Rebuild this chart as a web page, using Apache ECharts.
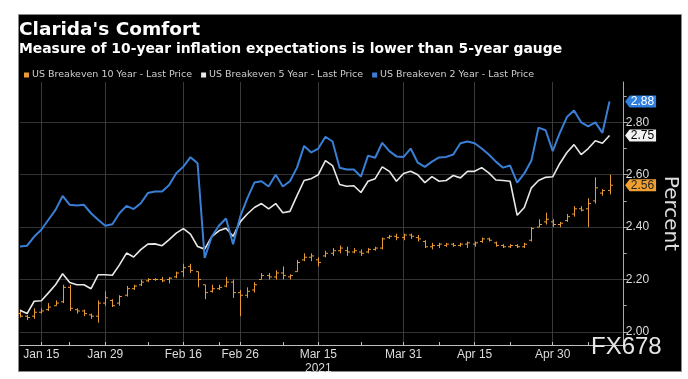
<!DOCTYPE html>
<html>
<head>
<meta charset="utf-8">
<script src="https://cdn.jsdelivr.net/npm/echarts@6/dist/echarts.min.js"></script>
<style>
html,body{margin:0;padding:0;background:#fff;}
#chart{width:688px;height:379px;}
</style>
</head>
<body>
<div id="chart"></div>
<script>
// ---- data ----
const dates = [
 'Jan 12','Jan 13','Jan 14','Jan 15','Jan 19','Jan 20','Jan 21','Jan 22','Jan 25','Jan 26','Jan 27','Jan 28','Jan 29',
 'Feb 1','Feb 2','Feb 3','Feb 4','Feb 5','Feb 8','Feb 9','Feb 10','Feb 11','Feb 12','Feb 16','Feb 17','Feb 18','Feb 19','Feb 22','Feb 23','Feb 24','Feb 25','Feb 26',
 'Mar 1','Mar 2','Mar 3','Mar 4','Mar 5','Mar 8','Mar 9','Mar 10','Mar 11','Mar 12','Mar 15','Mar 16','Mar 17','Mar 18','Mar 19','Mar 22','Mar 23','Mar 24','Mar 25','Mar 26','Mar 29','Mar 30','Mar 31',
 'Apr 1','Apr 5','Apr 6','Apr 7','Apr 8','Apr 9','Apr 12','Apr 13','Apr 14','Apr 15','Apr 16','Apr 19','Apr 20','Apr 21','Apr 22','Apr 23','Apr 26','Apr 27','Apr 28','Apr 29','Apr 30',
 'May 3','May 4','May 5','May 6','May 7','May 10','May 11','May 12'
];
const labelDates = ['Jan 15','Jan 29','Feb 16','Feb 26','Mar 15','Mar 31','Apr 15','Apr 30'];
const minorTickDates = ['Jan 22','Feb 8','Feb 23','Mar 8','Mar 23','Apr 8','Apr 22','May 7'];
const yearLabel = '2021';
const yTickValues = [2.0, 2.2, 2.4, 2.6, 2.8];
const yMinorValues = [2.1, 2.3, 2.5, 2.7, 2.9];

const be2y = [
 2.326,2.329,2.364,2.39,2.428,2.466,2.519,2.485,2.483,2.485,2.453,2.428,2.405,
 2.411,2.453,2.481,2.469,2.491,2.53,2.536,2.536,2.561,2.606,2.631,2.667,2.644,2.282,2.364,2.405,2.433,2.335,2.44,
 2.51,2.57,2.575,2.555,2.60,2.555,2.575,2.627,2.71,2.685,2.70,2.745,2.727,2.627,2.62,2.62,2.593,2.673,2.665,2.722,2.69,2.67,2.668,
 2.70,2.646,2.63,2.65,2.666,2.668,2.677,2.72,2.727,2.72,2.70,2.677,2.65,2.627,2.635,2.57,2.605,2.654,2.78,2.77,2.69,
 2.76,2.82,2.845,2.80,2.785,2.80,2.76,2.88
];
const be5y = [
 2.083,2.07,2.117,2.119,2.149,2.18,2.222,2.189,2.18,2.18,2.165,2.218,2.218,
 2.216,2.256,2.301,2.286,2.314,2.335,2.336,2.329,2.352,2.377,2.394,2.373,2.326,2.316,2.364,2.386,2.396,2.365,2.42,
 2.45,2.475,2.49,2.47,2.49,2.455,2.46,2.52,2.578,2.585,2.60,2.654,2.635,2.563,2.556,2.558,2.532,2.575,2.585,2.63,2.613,2.575,2.605,
 2.613,2.60,2.57,2.593,2.575,2.578,2.597,2.588,2.613,2.613,2.627,2.607,2.58,2.578,2.575,2.445,2.475,2.55,2.578,2.59,2.592,
 2.643,2.685,2.715,2.677,2.70,2.73,2.72,2.75
];
// 10-year breakeven OHLC
const be10Open = [
 2.07,2.06,2.06,2.075,2.085,2.10,2.115,2.17,2.085,2.08,2.065,2.06,2.11,
 2.12,2.11,2.14,2.165,2.18,2.195,2.20,2.20,2.20,2.21,2.23,2.25,2.23,2.18,2.155,2.165,2.175,2.19,2.15,
 2.14,2.16,2.20,2.215,2.21,2.225,2.21,2.23,2.275,2.285,2.275,2.29,2.30,2.31,2.31,2.305,2.305,2.305,2.315,2.32,2.36,2.365,2.36,
 2.37,2.36,2.345,2.325,2.33,2.33,2.335,2.33,2.335,2.335,2.345,2.355,2.34,2.33,2.325,2.33,2.325,2.35,2.40,2.42,2.42,
 2.41,2.425,2.45,2.47,2.47,2.50,2.53,2.54
];
const be10Close = [
 2.06,2.055,2.075,2.08,2.095,2.11,2.17,2.09,2.08,2.07,2.06,2.11,2.13,
 2.10,2.135,2.165,2.175,2.19,2.20,2.20,2.195,2.205,2.225,2.245,2.235,2.20,2.15,2.165,2.17,2.19,2.15,2.14,
 2.155,2.18,2.215,2.21,2.225,2.215,2.215,2.265,2.285,2.29,2.265,2.30,2.31,2.32,2.305,2.31,2.30,2.315,2.32,2.355,2.365,2.36,2.37,
 2.365,2.355,2.325,2.33,2.335,2.335,2.33,2.335,2.34,2.34,2.355,2.35,2.33,2.325,2.33,2.325,2.335,2.395,2.41,2.43,2.41,
 2.415,2.44,2.47,2.465,2.49,2.55,2.54,2.56
];
const be10Low = [
 2.055,2.045,2.05,2.07,2.08,2.10,2.11,2.08,2.07,2.06,2.05,2.035,2.10,
 2.095,2.10,2.135,2.16,2.175,2.19,2.195,2.19,2.185,2.205,2.21,2.225,2.17,2.125,2.15,2.16,2.17,2.13,2.06,
 2.13,2.15,2.20,2.20,2.20,2.20,2.20,2.23,2.27,2.27,2.25,2.285,2.29,2.30,2.29,2.30,2.29,2.30,2.31,2.315,2.355,2.35,2.35,
 2.355,2.345,2.32,2.315,2.32,2.325,2.325,2.325,2.32,2.325,2.34,2.345,2.325,2.32,2.32,2.32,2.32,2.345,2.40,2.41,2.40,
 2.40,2.42,2.44,2.46,2.40,2.49,2.52,2.525
];
const be10High = [
 2.085,2.065,2.09,2.09,2.11,2.12,2.18,2.18,2.09,2.085,2.07,2.12,2.155,
 2.125,2.14,2.175,2.18,2.20,2.205,2.205,2.21,2.21,2.23,2.26,2.26,2.23,2.18,2.18,2.18,2.21,2.20,2.16,
 2.17,2.19,2.225,2.225,2.235,2.25,2.22,2.275,2.30,2.30,2.285,2.31,2.32,2.33,2.325,2.32,2.315,2.32,2.325,2.36,2.37,2.375,2.375,
 2.375,2.37,2.35,2.34,2.34,2.34,2.34,2.34,2.345,2.345,2.36,2.36,2.345,2.335,2.335,2.335,2.34,2.40,2.43,2.455,2.43,
 2.42,2.45,2.48,2.48,2.51,2.59,2.545,2.60
];
const names = ['US Breakeven 10 Year - Last Price','US Breakeven 5 Year - Last Price','US Breakeven 2 Year - Last Price'];
const titleText = "Clarida's Comfort";
const subtitleText = 'Measure of 10-year inflation expectations is lower than 5-year gauge';

// ---- chart ----
const C10 = '#e89a34', C5 = '#e8e8e8', C2 = '#3a7fd6';
const xCats = dates.concat(['', ' ']);
const last = dates.length - 1;
const ohlc = dates.map((d, i) => [i, be10Open[i], be10Close[i], be10Low[i], be10High[i]]);
const FONT = 'Liberation Sans';
const DJ = 'DejaVu Sans';

const chart = echarts.init(document.getElementById('chart'));
chart.setOption({
  animation: false,
  backgroundColor: '#ffffff',
  textStyle: { fontFamily: FONT },
  graphic: [
    { type: 'rect', z: -10, shape: { x: 18.5, y: 14.5, width: 663, height: 357 },
      style: { fill: '#000', stroke: '#8a8a8a', lineWidth: 1 } },
    { type: 'text', z: 100, left: 591, top: 335,
      style: { text: 'FX678', fill: '#e6e6e6', font: '24px "Liberation Sans"' } }
  ],
  title: [
    { text: titleText, left: 19, top: 21, padding: 0,
      textStyle: { color: '#fff', fontSize: 18.5, fontWeight: 'bold', fontFamily: DJ } },
    { text: subtitleText, left: 19, top: 42, padding: 0,
      textStyle: { color: '#fff', fontSize: 13.9, fontWeight: 'bold', fontFamily: DJ } }
  ],
  legend: {
    left: 24, top: 70, padding: 0, icon: 'rect', itemWidth: 5, itemHeight: 5, itemGap: 9,
    textStyle: { color: '#cfcfcf', fontSize: 9.5, fontFamily: DJ, padding: [0, 0, 0, -2] },
    data: names
  },
  grid: { left: 20, right: 55, top: 82, bottom: 34 },
  xAxis: {
    type: 'category', data: xCats, boundaryGap: false,
    axisLine: { show: true, lineStyle: { color: '#bdbdbd', width: 1 } },
    axisTick: { show: true, inside: true, length: 3,
      interval: (i, v) => labelDates.includes(v) || minorTickDates.includes(v),
      lineStyle: { color: '#bdbdbd' } },
    axisLabel: { color: '#dcdcdc', fontSize: 12, margin: 3, lineHeight: 14,
      interval: (i, v) => labelDates.includes(v),
      formatter: v => v === 'Mar 15' ? v + '\n' + yearLabel : v },
    splitLine: { show: true, interval: (i, v) => labelDates.includes(v),
      lineStyle: { color: '#3a3a3a', width: 1 } }
  },
  yAxis: [
    {
      type: 'value', position: 'right', min: 1.95, max: 2.954,
      axisLine: { show: true, lineStyle: { color: '#aaaaaa' } },
      axisTick: { show: true, inside: false, length: 4, customValues: yTickValues, lineStyle: { color: '#aaaaaa' } },
      axisLabel: { color: '#dcdcdc', fontSize: 12, margin: 2, customValues: yTickValues, formatter: v => v.toFixed(2) },
      splitLine: { show: true, lineStyle: { color: '#333333' } },
      name: 'Percent', nameLocation: 'middle', nameRotate: -90, nameGap: 35,
      nameTextStyle: { color: '#dcdcdc', fontSize: 20, fontFamily: DJ }
    },
    {
      type: 'value', position: 'right', min: 1.95, max: 2.954,
      axisLine: { show: false },
      axisTick: { show: true, inside: false, length: 3, customValues: yMinorValues, lineStyle: { color: '#aaaaaa' } },
      axisLabel: { show: false },
      splitLine: { show: false }
    }
  ],
  series: [
    {
      name: names[0], type: 'custom', data: ohlc, encode: { x: 0, y: [1, 2, 3, 4] },
      itemStyle: { color: C10 },
      renderItem: function (params, api) {
        const x = api.value(0);
        const pl = api.coord([x, api.value(3)]);
        const ph = api.coord([x, api.value(4)]);
        const po = api.coord([x, api.value(1)]);
        const pc = api.coord([x, api.value(2)]);
        const st = { stroke: C10, lineWidth: 1 };
        const X = Math.round(pl[0]) + 0.5;
        return { type: 'group', children: [
          { type: 'line', shape: { x1: X, y1: pl[1], x2: X, y2: ph[1] }, style: st },
          { type: 'line', shape: { x1: X - 2.5, y1: po[1], x2: X, y2: po[1] }, style: st },
          { type: 'line', shape: { x1: X, y1: pc[1], x2: X + 2.5, y2: pc[1] }, style: st }
        ] };
      }
    },
    {
      name: names[1], type: 'line', data: be5y, symbol: 'none',
      lineStyle: { color: C5, width: 1.6 }, itemStyle: { color: C5 }
    },
    {
      name: names[2], type: 'line', data: be2y, symbol: 'none',
      lineStyle: { color: C2, width: 2 }, itemStyle: { color: C2 },
      markPoint: {
        symbol: 'path://M0,6 L5,0 L34,0 L34,12 L5,12 Z',
        symbolSize: [31, 12], symbolOffset: [31, 0], symbolKeepAspect: false,
        label: { show: true, fontSize: 12, fontFamily: FONT, offset: [2, 0] },
        data: [
          { coord: [dates[last], be2y[last]], value: be2y[last].toFixed(2),
            itemStyle: { color: '#2f7fe0' }, label: { color: '#ffffff' } },
          { coord: [dates[last], be5y[last]], value: be5y[last].toFixed(2),
            itemStyle: { color: '#f2f2f2' }, label: { color: '#000000' } },
          { coord: [dates[last], be10Close[last]], value: be10Close[last].toFixed(2),
            itemStyle: { color: '#f0a030' }, label: { color: '#222222' } }
        ]
      }
    }
  ]
});
</script>
</body>
</html>
